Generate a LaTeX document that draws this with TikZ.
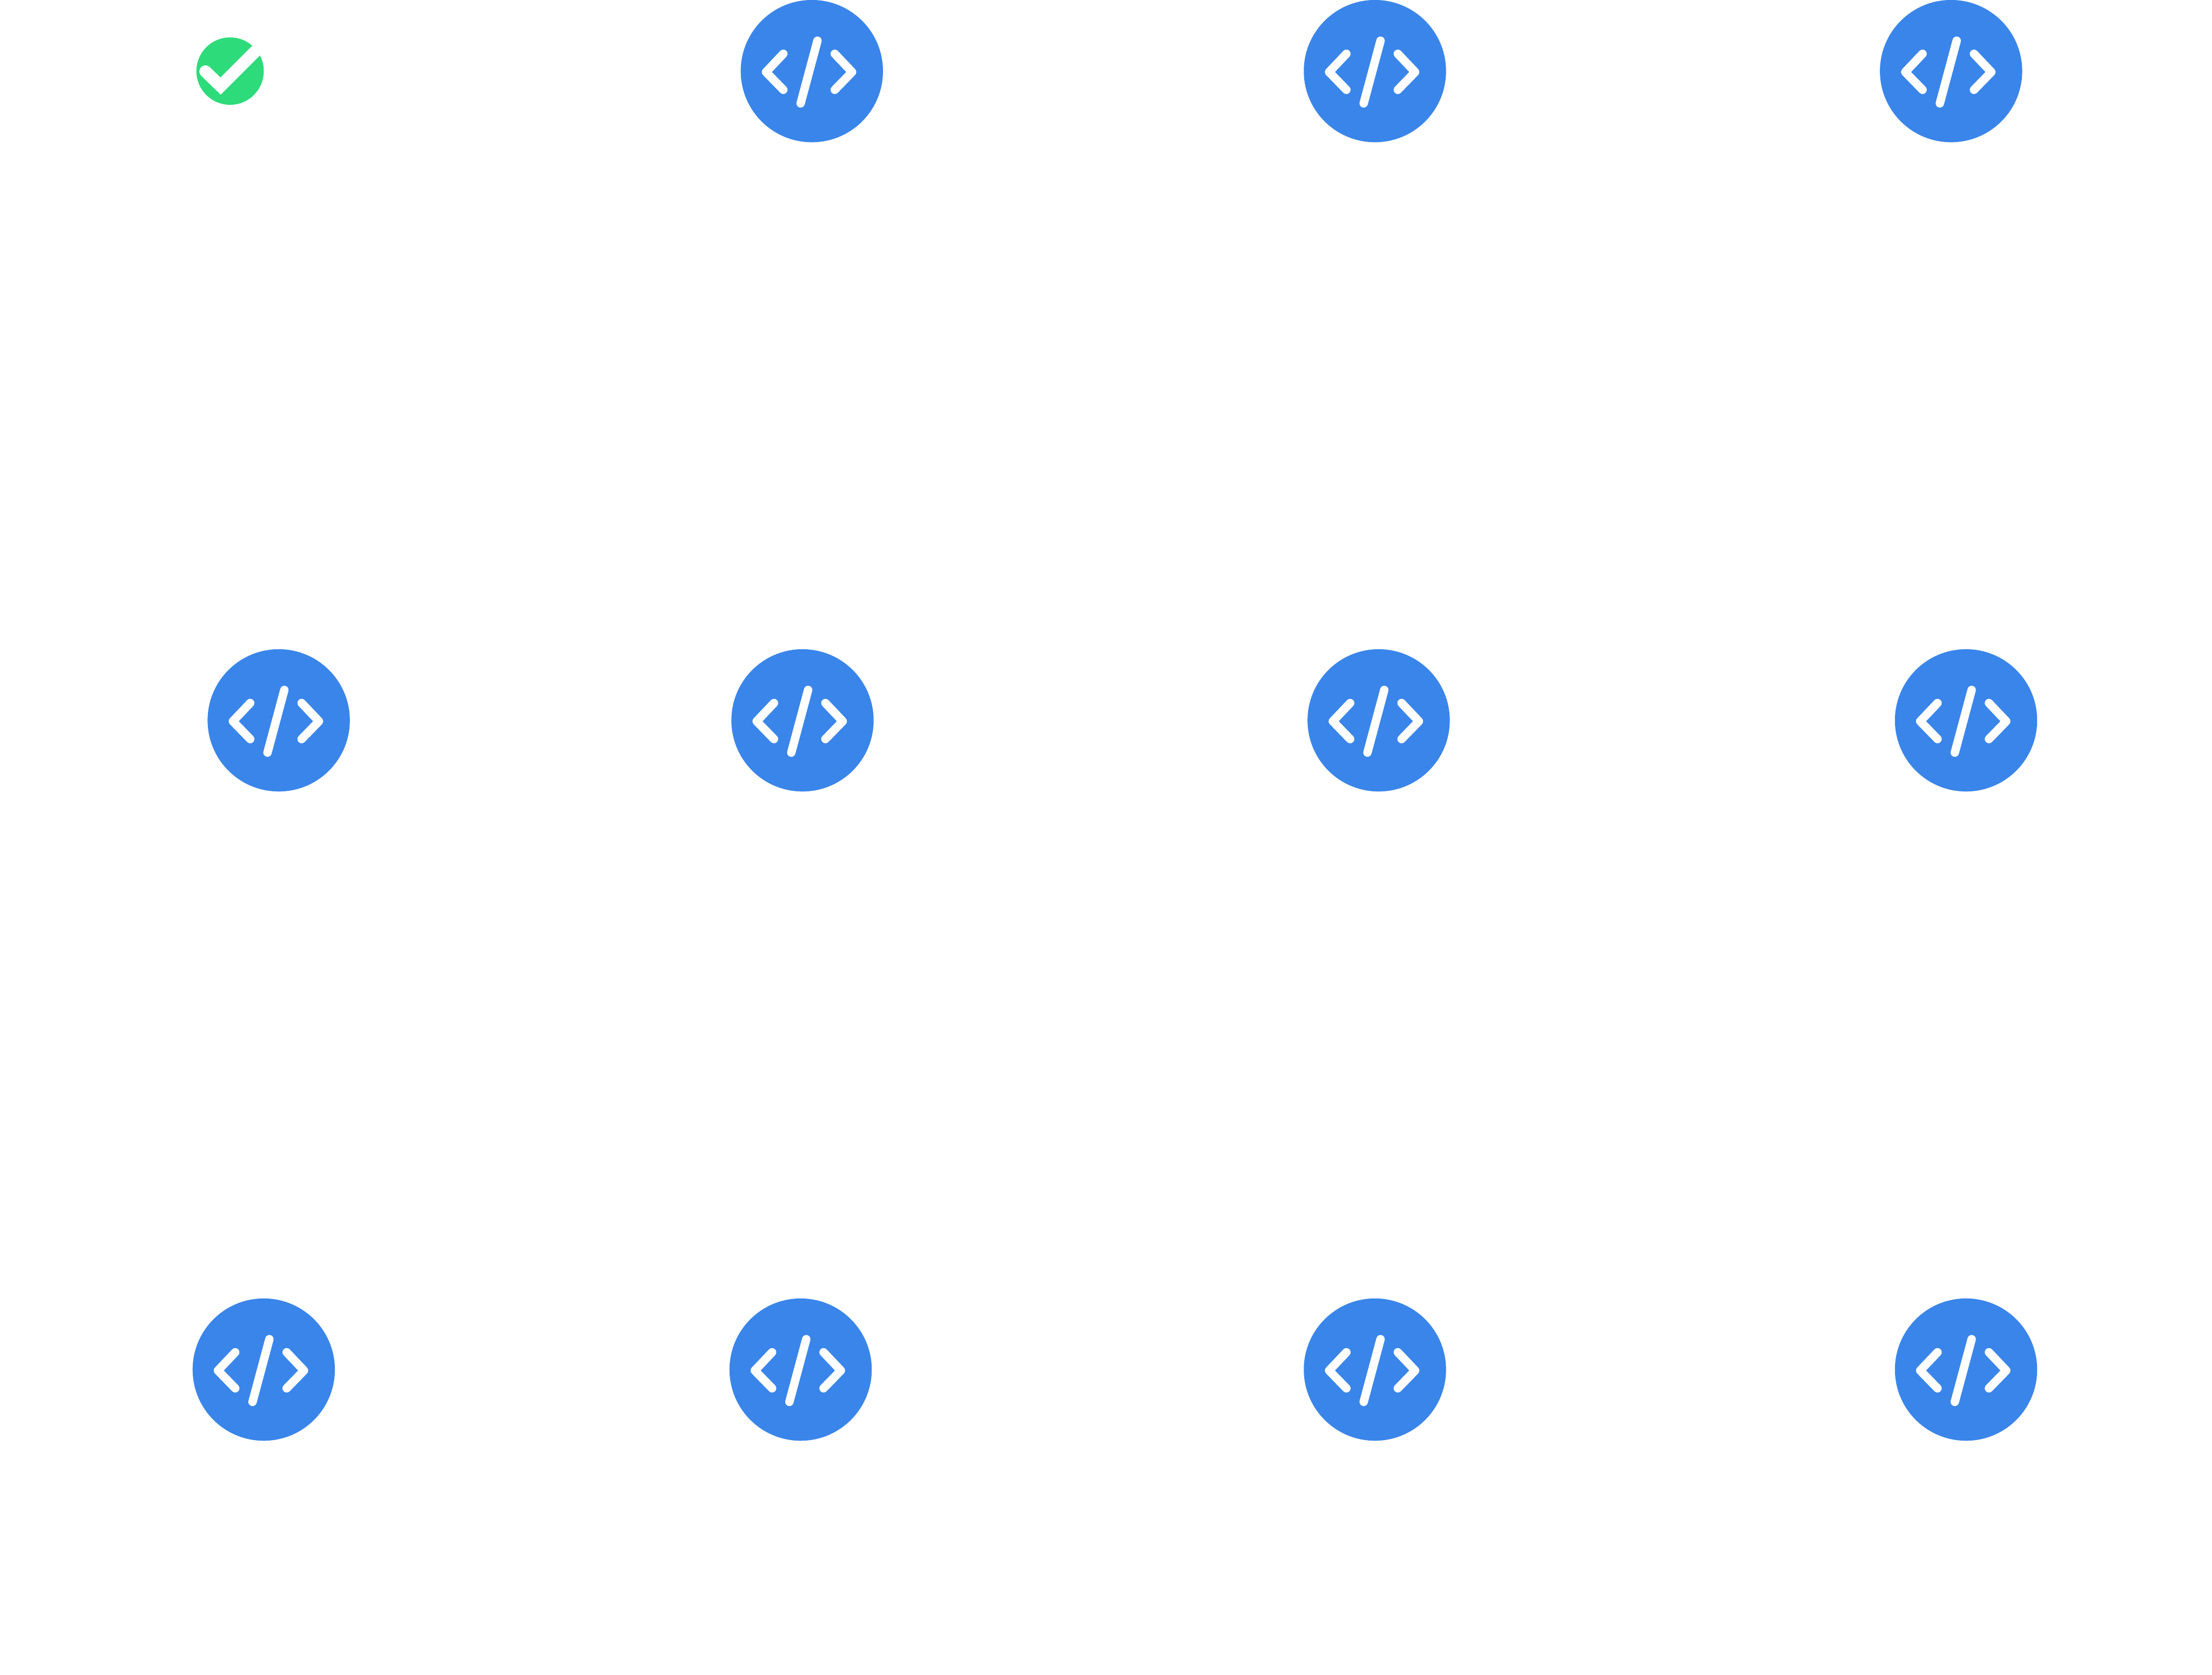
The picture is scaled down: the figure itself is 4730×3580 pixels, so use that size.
\documentclass[tikz,border=0pt]{standalone}
\definecolor{iconblue}{HTML}{3A85EA}
\definecolor{icongreen}{HTML}{2EDB7A}
\tikzset{
  codedisc/.style={circle,fill=iconblue,draw=none,inner sep=0pt,minimum size=3.04cm},
  checkdisc/.style={circle,fill=icongreen,draw=none,inner sep=0pt,minimum size=1.44cm},
  glyph/.style={draw=white,line width=0.18cm,line cap=round,line join=round},
  checkglyph/.style={draw=white,line width=0.26cm,line cap=round,line join=miter},
  codeicon/.pic={
    \node[codedisc] (-disc) at (0,0) {};
    \draw[glyph] (-61,-37) -- (-98,2) -- (-61,40);
    \draw[glyph] (49,-37) -- (86,2) -- (49,40);
    \draw[glyph] (12,-65) -- (-24,69);
  }
}
\begin{document}
\begin{tikzpicture}[x=0.01cm,y=-0.01cm]
\useasboundingbox (0,0) rectangle (4730,3580);
\fill[white] (0,0) rectangle (4730,3580);
% top row
\node[checkdisc] (check) at (492,152) {};
\draw[checkglyph] (439.3,152.7) -- (471.7,184) -- (553,102.7);
\pic (a2) at (1736,152) {codeicon};
\pic (a3) at (2940,152) {codeicon};
\pic (a4) at (4172,152) {codeicon};
% middle row
\pic (b1) at (596,1540) {codeicon};
\pic (b2) at (1716,1540) {codeicon};
\pic (b3) at (2948,1540) {codeicon};
\pic (b4) at (4204,1540) {codeicon};
% bottom row
\pic (c1) at (564,2928) {codeicon};
\pic (c2) at (1712,2928) {codeicon};
\pic (c3) at (2940,2928) {codeicon};
\pic (c4) at (4204,2928) {codeicon};
\end{tikzpicture}
\end{document}
